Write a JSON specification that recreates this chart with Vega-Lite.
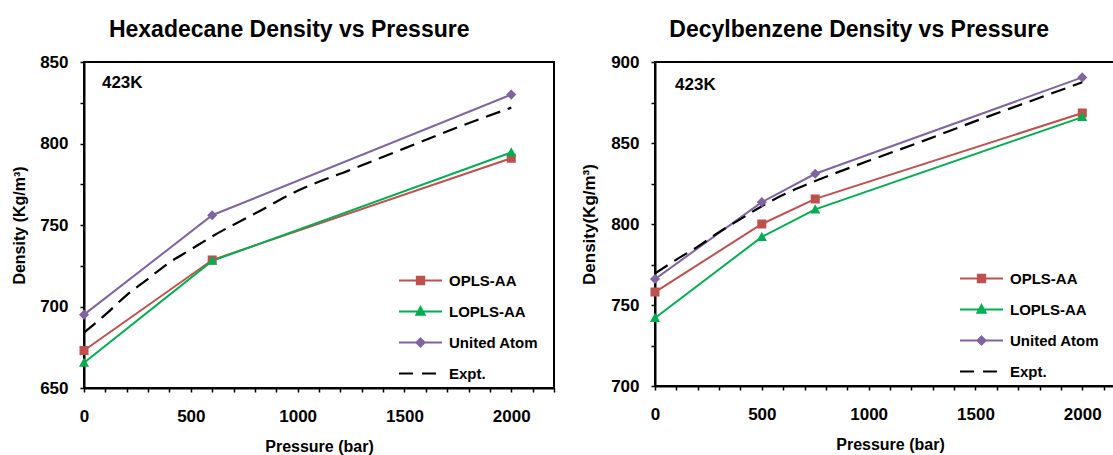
{
  "$schema": "https://vega.github.io/schema/vega-lite/v6.json",
  "padding": {"left": 10, "top": 18, "right": 0, "bottom": 0},
  "spacing": 23,
  "background": "white",
  "config": {
    "font": "Liberation Sans",
    "view": {"stroke": "black", "strokeWidth": 2},
    "axis": {
      "grid": false, "labelOverlap": false, "tickCount": 40,
      "domainColor": "black", "domainWidth": 2,
      "tickColor": "black", "tickWidth": 1.5, "tickSize": 4,
      "labelFont": "Liberation Sans", "labelFontSize": 17, "labelFontWeight": "bold", "labelColor": "black",
      "titleFont": "Liberation Sans", "titleFontSize": 16, "titleFontWeight": "bold", "titleColor": "black"
    },
    "axisX": {"labelPadding": 16, "titlePadding": 14, "labelFlush": false, "format": "d"},
    "axisY": {"labelPadding": 12, "titlePadding": 12},
    "title": {"font": "Liberation Sans", "fontSize": 23, "fontWeight": "bold", "color": "black", "anchor": "middle", "frame": "bounds", "offset": 11, "dx": 6},
    "legend": {
      "labelFont": "Liberation Sans", "labelFontSize": 15, "labelFontWeight": "bold", "labelColor": "black",
      "symbolSize": 1849, "symbolStrokeWidth": 2, "rowPadding": 14, "labelOffset": 6, "padding": 0, "clipHeight": 17
    }
  },
  "datasets": {
    "hex": [
      {"series": "OPLS-AA", "pressure": 0, "density": 673},
      {"series": "OPLS-AA", "pressure": 600, "density": 728.5},
      {"series": "OPLS-AA", "pressure": 2000, "density": 791},
      {"series": "LOPLS-AA", "pressure": 0, "density": 665.5},
      {"series": "LOPLS-AA", "pressure": 600, "density": 728},
      {"series": "LOPLS-AA", "pressure": 2000, "density": 794.5},
      {"series": "United Atom", "pressure": 0, "density": 695},
      {"series": "United Atom", "pressure": 600, "density": 756},
      {"series": "United Atom", "pressure": 2000, "density": 830},
      {"series": "Expt.", "pressure": 0, "density": 684},
      {"series": "Expt.", "pressure": 100, "density": 695},
      {"series": "Expt.", "pressure": 200, "density": 707},
      {"series": "Expt.", "pressure": 300, "density": 717},
      {"series": "Expt.", "pressure": 400, "density": 727},
      {"series": "Expt.", "pressure": 500, "density": 735},
      {"series": "Expt.", "pressure": 600, "density": 743},
      {"series": "Expt.", "pressure": 800, "density": 757},
      {"series": "Expt.", "pressure": 1000, "density": 771},
      {"series": "Expt.", "pressure": 1250, "density": 784},
      {"series": "Expt.", "pressure": 1500, "density": 797},
      {"series": "Expt.", "pressure": 1750, "density": 810},
      {"series": "Expt.", "pressure": 2000, "density": 822}
    ],
    "dec": [
      {"series": "OPLS-AA", "pressure": 0, "density": 758},
      {"series": "OPLS-AA", "pressure": 500, "density": 800},
      {"series": "OPLS-AA", "pressure": 750, "density": 815.5},
      {"series": "OPLS-AA", "pressure": 2000, "density": 868.5},
      {"series": "LOPLS-AA", "pressure": 0, "density": 742},
      {"series": "LOPLS-AA", "pressure": 500, "density": 792},
      {"series": "LOPLS-AA", "pressure": 750, "density": 809},
      {"series": "LOPLS-AA", "pressure": 2000, "density": 866},
      {"series": "United Atom", "pressure": 0, "density": 766},
      {"series": "United Atom", "pressure": 500, "density": 813.5},
      {"series": "United Atom", "pressure": 750, "density": 831},
      {"series": "United Atom", "pressure": 2000, "density": 890.5},
      {"series": "Expt.", "pressure": 0, "density": 769.5},
      {"series": "Expt.", "pressure": 100, "density": 778},
      {"series": "Expt.", "pressure": 200, "density": 786},
      {"series": "Expt.", "pressure": 300, "density": 795},
      {"series": "Expt.", "pressure": 400, "density": 803},
      {"series": "Expt.", "pressure": 500, "density": 811},
      {"series": "Expt.", "pressure": 600, "density": 818},
      {"series": "Expt.", "pressure": 750, "density": 826.5},
      {"series": "Expt.", "pressure": 1000, "density": 839},
      {"series": "Expt.", "pressure": 1250, "density": 851},
      {"series": "Expt.", "pressure": 1500, "density": 863.5},
      {"series": "Expt.", "pressure": 1750, "density": 875.5},
      {"series": "Expt.", "pressure": 2000, "density": 887.5}
    ]
  },
  "hconcat": [
    {
      "width": 470, "height": 326,
      "title": "Hexadecane Density vs Pressure",
      "data": {"name": "hex"},
      "layer": [
        {
          "transform": [{"filter": "datum.series !== 'Expt.'"}],
          "mark": {"type": "line", "strokeWidth": 2},
          "encoding": {
            "x": {"field": "pressure", "type": "quantitative", "scale": {"domain": [0, 2200], "nice": false},
                  "axis": {"title": "Pressure (bar)", "tickCount": 40, "labelOverlap": false, "values": [0,100,200,300,400,500,600,700,800,900,1000,1100,1200,1300,1400,1500,1600,1700,1800,1900,2000,2100,2200], "labelExpr": "datum.value % 500 === 0 ? datum.label : ''"}},
            "y": {"field": "density", "type": "quantitative", "scale": {"domain": [650, 850], "nice": false, "zero": false},
                  "axis": {"title": "Density (Kg/m³)", "tickCount": 40, "labelOverlap": false, "values": [650,675,700,725,750,775,800,825,850], "labelExpr": "datum.value % 50 === 0 ? datum.label : ''"}},
            "color": {"field": "series", "type": "nominal", "scale": {"domain": ["OPLS-AA", "LOPLS-AA", "United Atom", "Expt."], "range": ["#C0504D", "#00B050", "#8064A2", "#000000"]}, "legend": null}
          }
        },
        {
          "transform": [{"filter": "datum.series === 'Expt.'"}],
          "mark": {"type": "line", "strokeWidth": 2.2, "strokeDash": [15, 8], "interpolate": "monotone", "color": "black"},
          "encoding": {
            "x": {"field": "pressure", "type": "quantitative"},
            "y": {"field": "density", "type": "quantitative"}
          }
        },
        {
          "transform": [{"filter": "datum.series !== 'Expt.'"}],
          "mark": {"type": "point", "filled": true, "strokeWidth": 0, "size": 2800, "opacity": 1},
          "encoding": {
            "x": {"field": "pressure", "type": "quantitative"},
            "y": {"field": "density", "type": "quantitative"},
            "fill": {"field": "series", "type": "nominal", "scale": {"domain": ["OPLS-AA", "LOPLS-AA", "United Atom", "Expt."], "range": ["#C0504D", "#00B050", "#8064A2", "#000000"]},
                     "legend": {"title": null, "orient": "none", "legendX": 314, "legendY": 210, "encode": {"symbols": {"strokeWidth": {"value": 2}, "opacity": {"value": 1}}}}},
            "stroke": {"field": "series", "type": "nominal", "scale": {"domain": ["OPLS-AA", "LOPLS-AA", "United Atom", "Expt."], "range": ["#C0504D", "#00B050", "#8064A2", "#000000"]},
                     "legend": {"title": null, "orient": "none", "legendX": 314, "legendY": 210, "encode": {"symbols": {"strokeWidth": {"value": 2}, "opacity": {"value": 1}}}}},
            "shape": {"field": "series", "type": "nominal", "scale": {"domain": ["OPLS-AA", "LOPLS-AA", "United Atom", "Expt."], "range": ["M-1,0H1M-0.17,-0.17H0.17V0.17H-0.17Z", "M-1,0H1M-0.19,0.15L0.19,0.15L0,-0.2Z", "M-1,0H1M0,-0.19L0.19,0L0,0.19L-0.19,0Z", "M-1,0H-0.35M0.07,0H0.72"]},
                     "legend": {"title": null, "orient": "none", "legendX": 314, "legendY": 210, "encode": {"symbols": {"strokeWidth": {"value": 2}, "opacity": {"value": 1}}}}}
          }
        },
        {
          "data": {"values": [{}]},
          "mark": {"type": "text", "text": "423K", "align": "left", "baseline": "middle", "fontSize": 17, "fontWeight": "bold", "color": "black"},
          "encoding": {"x": {"datum": 84}, "y": {"datum": 837}}
        }
      ]
    },
    {
      "width": 470, "height": 324,
      "title": "Decylbenzene Density vs Pressure",
      "data": {"name": "dec"},
      "layer": [
        {
          "transform": [{"filter": "datum.series !== 'Expt.'"}],
          "mark": {"type": "line", "strokeWidth": 2},
          "encoding": {
            "x": {"field": "pressure", "type": "quantitative", "scale": {"domain": [0, 2200], "nice": false},
                  "axis": {"title": "Pressure (bar)", "tickCount": 40, "labelOverlap": false, "values": [0,100,200,300,400,500,600,700,800,900,1000,1100,1200,1300,1400,1500,1600,1700,1800,1900,2000,2100,2200], "labelExpr": "datum.value % 500 === 0 ? datum.label : ''"}},
            "y": {"field": "density", "type": "quantitative", "scale": {"domain": [700, 900], "nice": false, "zero": false},
                  "axis": {"title": "Density(Kg/m³)", "titleFontSize": 17, "tickCount": 40, "labelOverlap": false, "values": [700,725,750,775,800,825,850,875,900], "labelExpr": "datum.value % 50 === 0 ? datum.label : ''"}},
            "color": {"field": "series", "type": "nominal", "scale": {"domain": ["OPLS-AA", "LOPLS-AA", "United Atom", "Expt."], "range": ["#C0504D", "#00B050", "#8064A2", "#000000"]}, "legend": null}
          }
        },
        {
          "transform": [{"filter": "datum.series === 'Expt.'"}],
          "mark": {"type": "line", "strokeWidth": 2.2, "strokeDash": [15, 8], "interpolate": "monotone", "color": "black"},
          "encoding": {
            "x": {"field": "pressure", "type": "quantitative"},
            "y": {"field": "density", "type": "quantitative"}
          }
        },
        {
          "transform": [{"filter": "datum.series !== 'Expt.'"}],
          "mark": {"type": "point", "filled": true, "strokeWidth": 0, "size": 2800, "opacity": 1},
          "encoding": {
            "x": {"field": "pressure", "type": "quantitative"},
            "y": {"field": "density", "type": "quantitative"},
            "fill": {"field": "series", "type": "nominal", "scale": {"domain": ["OPLS-AA", "LOPLS-AA", "United Atom", "Expt."], "range": ["#C0504D", "#00B050", "#8064A2", "#000000"]},
                     "legend": {"title": null, "orient": "none", "legendX": 304, "legendY": 208, "encode": {"symbols": {"strokeWidth": {"value": 2}, "opacity": {"value": 1}}}}},
            "stroke": {"field": "series", "type": "nominal", "scale": {"domain": ["OPLS-AA", "LOPLS-AA", "United Atom", "Expt."], "range": ["#C0504D", "#00B050", "#8064A2", "#000000"]},
                     "legend": {"title": null, "orient": "none", "legendX": 304, "legendY": 208, "encode": {"symbols": {"strokeWidth": {"value": 2}, "opacity": {"value": 1}}}}},
            "shape": {"field": "series", "type": "nominal", "scale": {"domain": ["OPLS-AA", "LOPLS-AA", "United Atom", "Expt."], "range": ["M-1,0H1M-0.17,-0.17H0.17V0.17H-0.17Z", "M-1,0H1M-0.19,0.15L0.19,0.15L0,-0.2Z", "M-1,0H1M0,-0.19L0.19,0L0,0.19L-0.19,0Z", "M-1,0H-0.35M0.07,0H0.72"]},
                     "legend": {"title": null, "orient": "none", "legendX": 304, "legendY": 208, "encode": {"symbols": {"strokeWidth": {"value": 2}, "opacity": {"value": 1}}}}}
          }
        },
        {
          "data": {"values": [{}]},
          "mark": {"type": "text", "text": "423K", "align": "left", "baseline": "middle", "fontSize": 17, "fontWeight": "bold", "color": "black"},
          "encoding": {"x": {"datum": 94}, "y": {"datum": 886}}
        }
      ]
    }
  ],
  "resolve": {
    "legend": {"fill": "independent", "stroke": "independent", "shape": "independent"}
  }
}
